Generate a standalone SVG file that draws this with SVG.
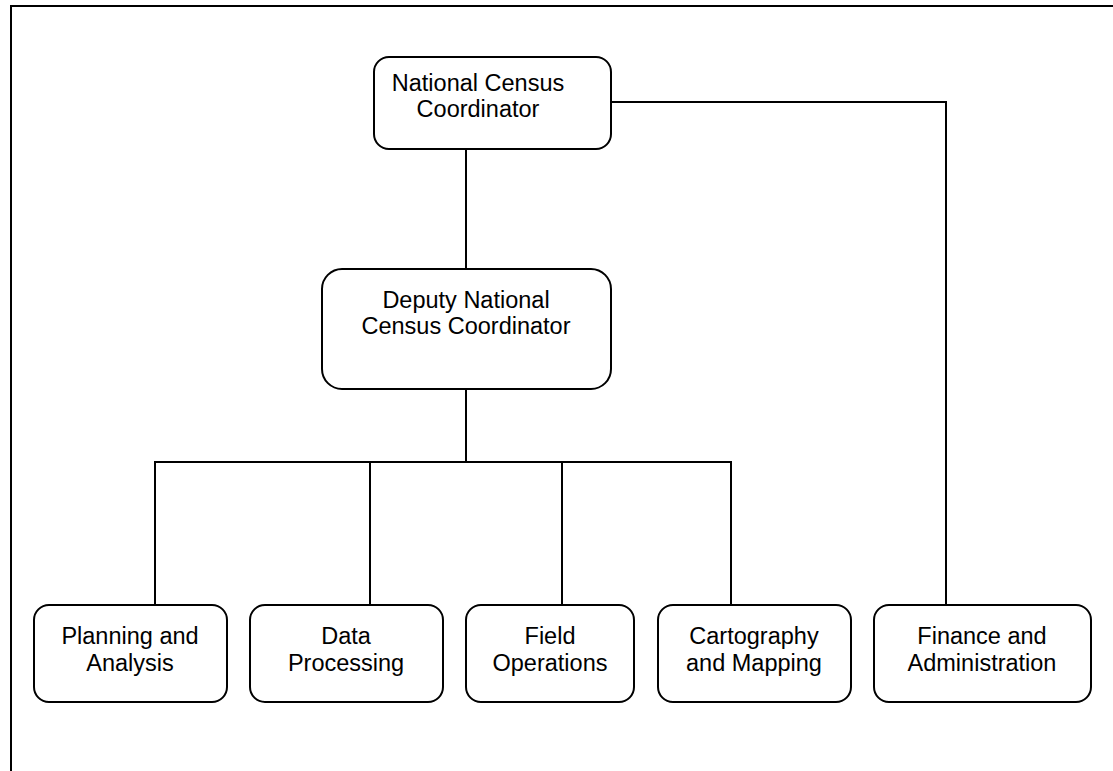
<svg xmlns="http://www.w3.org/2000/svg" width="1113" height="771" viewBox="0 0 1113 771">
<style>
.box{fill:#fff;stroke:#000;stroke-width:2}
.lbl{font-family:"Liberation Sans",Arial,sans-serif;font-size:23.5px;fill:#000;text-anchor:middle}
.con{fill:none;stroke:#000;stroke-width:2}
</style>
<rect width="1113" height="771" fill="#fff"/>
<path d="M11,771 V6 H1113" fill="none" stroke="#000" stroke-width="2"/>
<g id="connectors">
<path class="con" d="M466,149 V269"/>
<path class="con" d="M611,102 H946 V605"/>
<path class="con" d="M466,389 V462"/>
<path class="con" d="M155,605 V462 H731 V605"/>
<path class="con" d="M370,462 V605"/>
<path class="con" d="M562,462 V605"/>
</g>
<g id="national">
<rect class="box" x="374" y="57" width="237" height="92" rx="15"/>
<text class="lbl" x="478" y="91">National Census</text>
<text class="lbl" x="478" y="117">Coordinator</text>
</g>
<g id="deputy">
<rect class="box" x="322" y="269" width="289" height="120" rx="20"/>
<text class="lbl" x="466" y="308">Deputy National</text>
<text class="lbl" x="466" y="334">Census Coordinator</text>
</g>
<g id="planning">
<rect class="box" x="34" y="605" width="193" height="97" rx="15"/>
<text class="lbl" x="130" y="644">Planning and</text>
<text class="lbl" x="130" y="671">Analysis</text>
</g>
<g id="data">
<rect class="box" x="250" y="605" width="193" height="97" rx="15"/>
<text class="lbl" x="346" y="644">Data</text>
<text class="lbl" x="346" y="671">Processing</text>
</g>
<g id="field">
<rect class="box" x="466" y="605" width="168" height="97" rx="15"/>
<text class="lbl" x="550" y="644">Field</text>
<text class="lbl" x="550" y="671">Operations</text>
</g>
<g id="cartography">
<rect class="box" x="658" y="605" width="193" height="97" rx="15"/>
<text class="lbl" x="754" y="644">Cartography</text>
<text class="lbl" x="754" y="671">and Mapping</text>
</g>
<g id="finance">
<rect class="box" x="874" y="605" width="217" height="97" rx="15"/>
<text class="lbl" x="982" y="644">Finance and</text>
<text class="lbl" x="982" y="671">Administration</text>
</g>
</svg>
